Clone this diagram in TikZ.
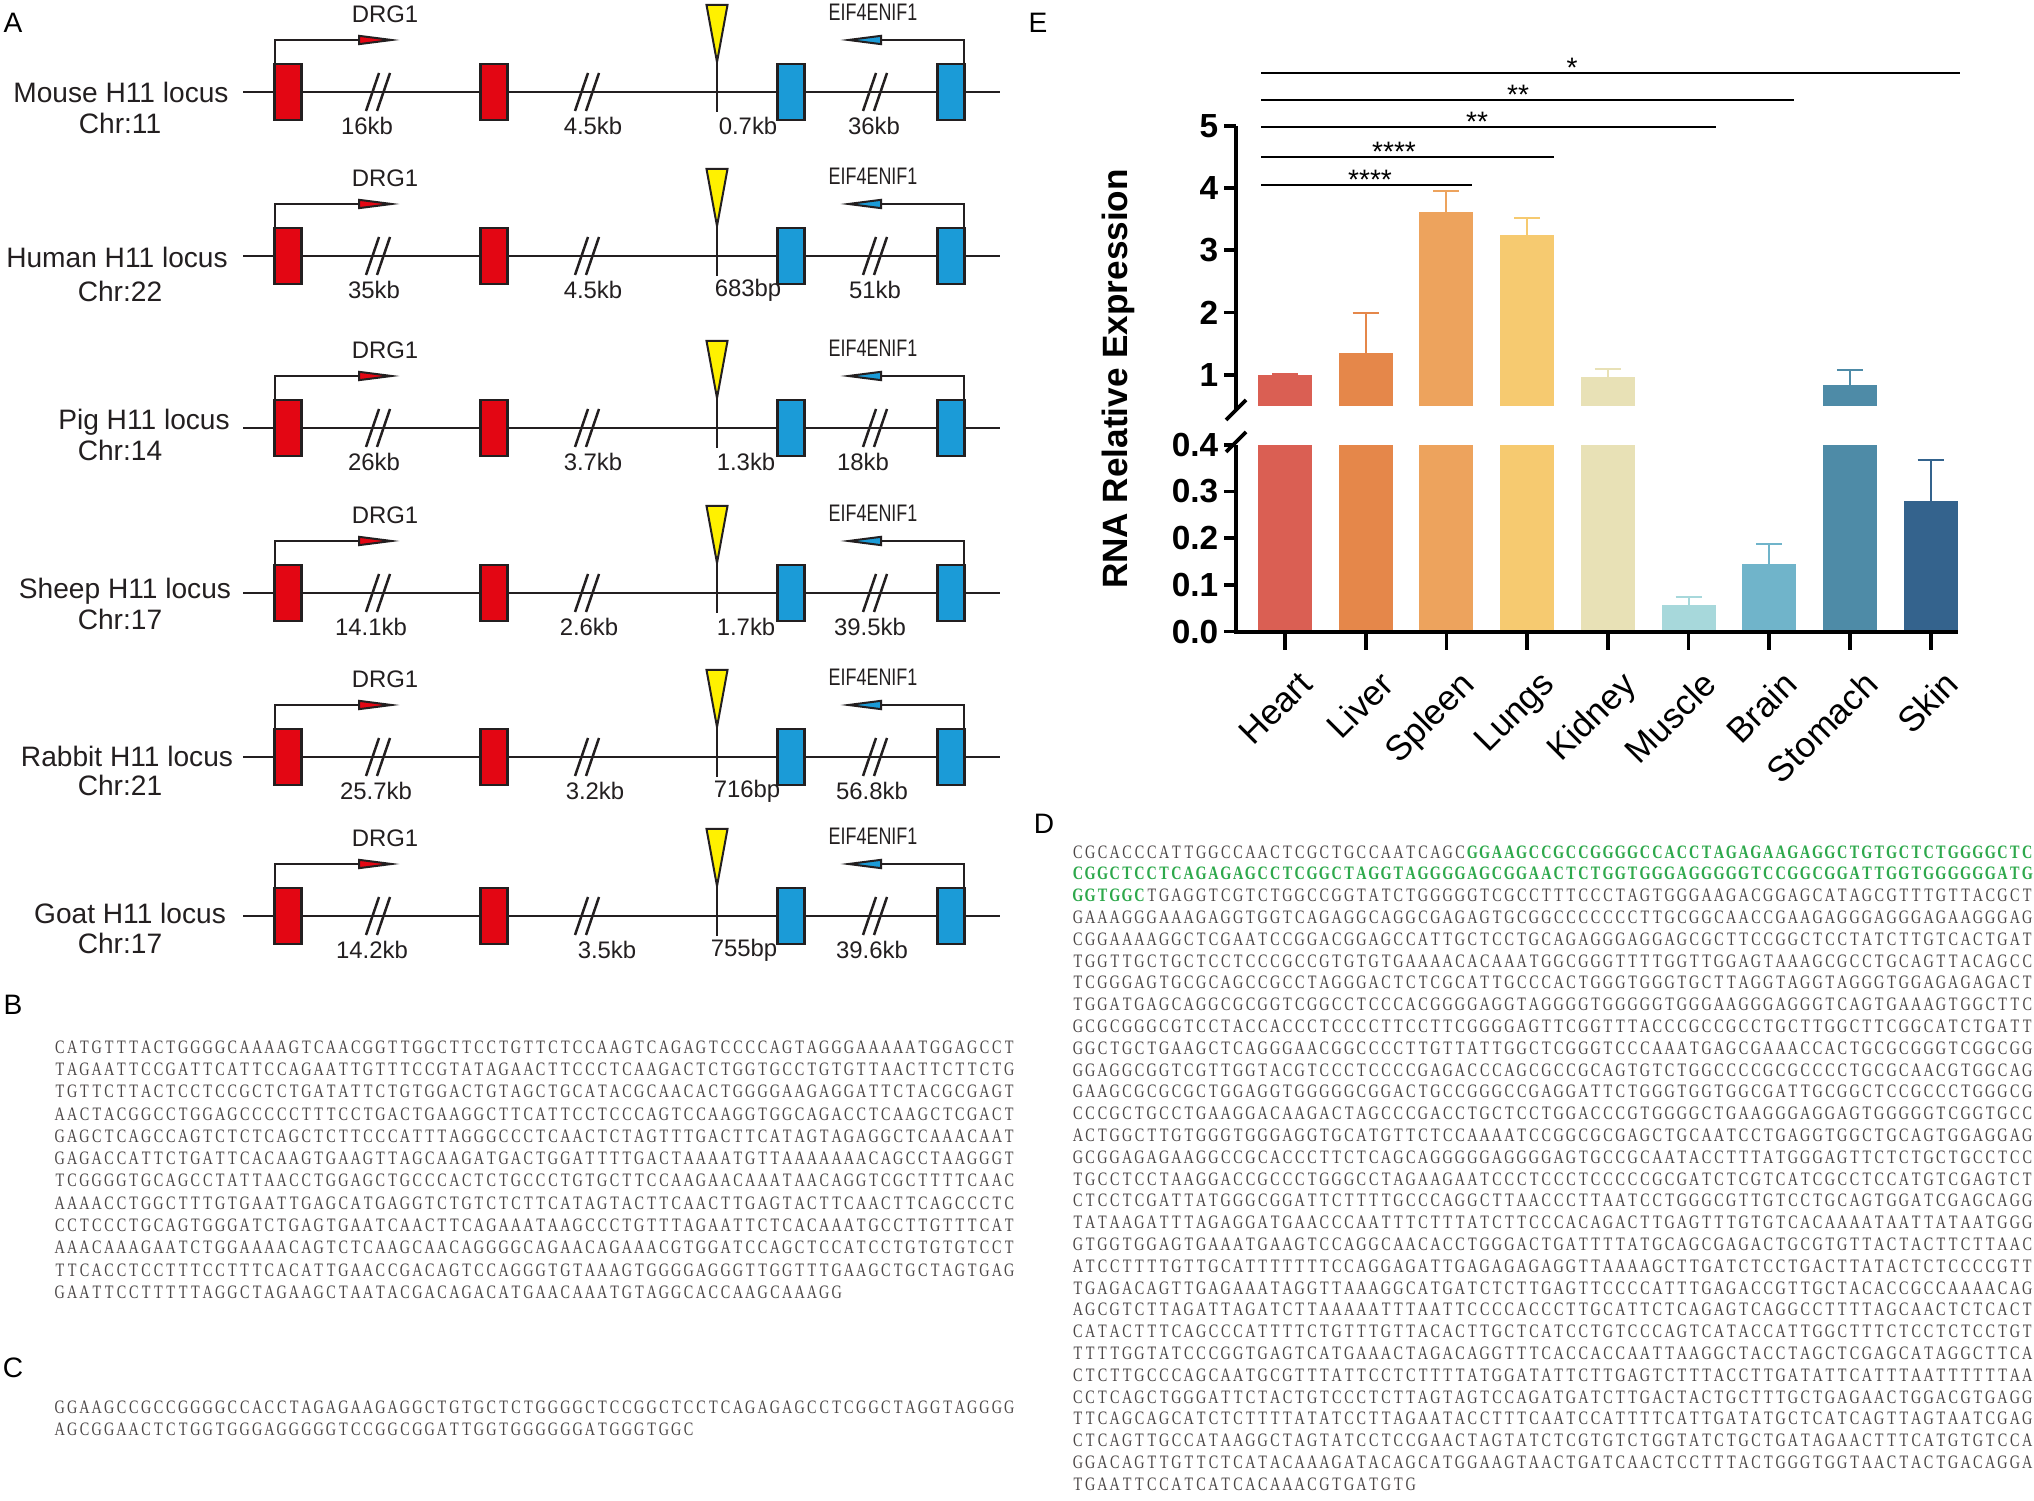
\documentclass[tikz,border=0pt]{standalone}
\usepackage{fontspec}
\setmainfont{Liberation Sans}
\newfontfamily\seqfont{Liberation Serif}
\usepackage{graphicx}
\usepackage{tikz}
\usetikzlibrary{arrows.meta}

\definecolor{inkdark}{HTML}{231F20}
\definecolor{exonred}{HTML}{E30613}
\definecolor{exonblue}{HTML}{1B9BD7}
\definecolor{siteyellow}{HTML}{FFF100}
\definecolor{seqgrey}{HTML}{4B4646}
\definecolor{seqgreen}{HTML}{2DA84B}
\definecolor{barheart}{HTML}{DA5F53}
\definecolor{barliver}{HTML}{E5874A}
\definecolor{barspleen}{HTML}{EDA35D}
\definecolor{barlungs}{HTML}{F6CA70}
\definecolor{barkidney}{HTML}{E8E1B6}
\definecolor{barmuscle}{HTML}{A7D8DB}
\definecolor{barbrain}{HTML}{70B4CA}
\definecolor{barstomach}{HTML}{4E8BA7}
\definecolor{barskin}{HTML}{34638D}

\tikzstyle{panel} = [font=\fontsize{8}{9}\selectfont, text=black, inner sep=0]
\tikzstyle{exon} = [rectangle, draw=inkdark, line width=0.25mm, minimum width=2.7mm, minimum height=5.6mm, inner sep=0]
\tikzstyle{species} = [font=\fontsize{8}{9}\selectfont, text=inkdark, inner sep=0]
\tikzstyle{dist} = [font=\fontsize{6.8}{8}\selectfont, text=inkdark, inner sep=0]
\tikzstyle{gene} = [font=\fontsize{6.8}{8}\selectfont, text=inkdark, inner sep=0]
\tikzstyle{backbone} = [draw=inkdark, line width=0.25mm]
\tikzstyle{genearrow} = [draw=inkdark, line width=0.2mm]
\tikzstyle{axis} = [draw=black, line width=0.38mm]
\tikzstyle{ticklabel} = [font=\fontsize{9.5}{11}\selectfont\bfseries, anchor=east, inner sep=0]
\tikzstyle{tissue} = [font=\fontsize{10}{11}\selectfont, rotate=45, anchor=north east, inner sep=0]
\tikzstyle{signif} = [draw=black, line width=0.15mm]
\tikzstyle{stars} = [font=\fontsize{8}{9}\selectfont, anchor=base, inner sep=0]
\tikzstyle{seqline} = [anchor=west, inner sep=0, text=seqgrey, font=\seqfont\fontsize{5.4}{6}\selectfont]

% one fixed-width cell per base
\newlength\dnaw
\setlength\dnaw{1.233mm}
\newcommand\dnaseq[1]{\expandafter\dnaloop#1\relax}
\def\dnaloop#1{\ifx#1\relax\else\makebox[\dnaw]{\scalebox{0.75}[1]{#1}}\expandafter\dnaloop\fi}

\begin{document}
\begin{tikzpicture}[x=0.1mm, y=-0.1mm]
    \useasboundingbox (0,0) rectangle (2034,1501);
    \fill[white] (0,0) rectangle (2034,1501);

    % panel letters
    \node[panel] (pA) at (13,23) {A};
    \node[panel] (pB) at (13,1005) {B};
    \node[panel] (pC) at (13,1368) {C};
    \node[panel] (pD) at (1044,824) {D};
    \node[panel] (pE) at (1038,23) {E};

    % A: loci
    \foreach \ry/\spx/\spy/\sp/\chy/\chr/\da/\dax/\db/\dbx/\dc/\dcx/\dd/\ddx [count=\i] in {
        92/121/92/Mouse/123/11/16kb/367/4.5kb/593/0.7kb/748/36kb/874,
        256/117/257/Human/291/22/35kb/374/4.5kb/593/683bp/748/51kb/875,
        428/144/422/Pig/450/14/26kb/374/3.7kb/593/1.3kb/746/18kb/863,
        593/125/591/Sheep/619/17/14.1kb/371/2.6kb/589/1.7kb/746/39.5kb/870,
        757/127/756/Rabbit/785/21/25.7kb/376/3.2kb/595/716bp/747/56.8kb/872,
        916/130/913/Goat/943/17/14.2kb/372/3.5kb/607/755bp/744/39.6kb/872} {
      \coordinate (bbstart\i) at (243,\ry);
      \coordinate (bbend\i) at (1000,\ry);
      \draw[backbone] (bbstart\i) -- (bbend\i);
      \foreach \sx in {378,587,875} {
        \draw[backbone] (\sx-12,\ry+19) -- (\sx+1,\ry-19);
        \draw[backbone] (\sx-1,\ry+19) -- (\sx+12,\ry-19);
      }
      \node[exon, fill=exonred] (redA\i) at (288,\ry) {};
      \node[exon, fill=exonred] (redB\i) at (494,\ry) {};
      \node[exon, fill=exonblue] (blueA\i) at (791,\ry) {};
      \node[exon, fill=exonblue] (blueB\i) at (951,\ry) {};
      % insertion site
      \coordinate (site\i) at (717,\ry-30);
      \draw[backbone] (site\i) -- ++(0,50);
      \draw[genearrow, fill=siteyellow] (site\i) -- ++(-10.5,-57) -- ++(21,0) -- cycle;
      % genes
      \coordinate (drgtip\i) at (400,\ry-52);
      \coordinate (eiftip\i) at (840,\ry-52);
      \draw[genearrow, -{Triangle[length=4.2mm, width=1mm, fill=exonred]}] ([xshift=0.15mm]redA\i.north west) |- (drgtip\i);
      \draw[genearrow, -{Triangle[length=4.2mm, width=1mm, fill=exonblue]}] ([xshift=-0.15mm]blueB\i.north east) |- (eiftip\i);
      \node[gene] (drg\i) at (385,\ry-78) {DRG1};
      \node[gene] (eif\i) at (873,\ry-80) {\scalebox{0.75}[1]{EIF4ENIF1}};
      % labels
      \node[species] (sp\i) at (\spx,\spy) {\sp{} H11 locus};
      \node[species] (chr\i) at (120,\chy) {Chr:\chr};
      \node[dist] (da\i) at (\dax,\ry+34) {\da};
      \node[dist] (db\i) at (\dbx,\ry+34) {\db};
      \node[dist] (dc\i) at (\dcx,\ry+34) {\dc};
      \node[dist] (dd\i) at (\ddx,\ry+34) {\dd};
    }

    % E: bar chart
    \foreach \v/\e/\c/\name [count=\k] in {1.0/1.02/barheart/Heart, 1.35/2.0/barliver/Liver,
        3.62/3.95/barspleen/Spleen, 3.24/3.52/barlungs/Lungs, 0.96/1.1/barkidney/Kidney,
        0.058/0.075/barmuscle/Muscle, 0.145/0.188/barbrain/Brain, 0.84/1.07/barstomach/Stomach,
        0.28/0.368/barskin/Skin} {
      \pgfmathsetmacro\cx{1285+80.7*(\k-1)}
      \pgfmathsetmacro\ytop{\v>0.4 ? 374.8-62.26*(\v-1) : 631.6-466.9*\v}
      \pgfmathsetmacro\yerr{\e>0.4 ? 374.8-62.26*(\e-1) : 631.6-466.9*\e}
      \pgfmathsetmacro\ylow{\v>0.4 ? 444.8 : \ytop}
      \fill[\c] (\cx-27,632) rectangle (\cx+27,\ylow);
      \ifdim\v pt>0.4pt
        \fill[\c] (\cx-27,406) rectangle (\cx+27,\ytop);
      \fi
      \draw[\c, line width=0.2mm] (\cx,\ytop) -- (\cx,\yerr) ++(-13,0) -- ++(26,0);
      \draw[axis] (\cx,632) -- (\cx,650);
      \node[tissue] (tis\k) at (\cx+12,668) {\name};
    }

    % axes with break
    \draw[axis] (1234,632) -- (1958,632);
    \draw[axis] (1236,126) -- (1236,410);
    \draw[axis] (1236,445) -- (1236,632);
    \draw[axis] (1226,420) -- (1246,400);
    \draw[axis] (1226,452) -- (1246,432);
    \foreach \v in {1,...,5} {
      \pgfmathsetmacro\yy{374.8-62.26*(\v-1)}
      \draw[axis] (1236,\yy) -- (1224,\yy);
      \node[ticklabel] (tu\v) at (1219,\yy) {\v};
    }
    \foreach \v/\t in {0/0.0,1/0.1,2/0.2,3/0.3,4/0.4} {
      \pgfmathsetmacro\yy{631.6-46.69*\v}
      \draw[axis] (1236,\yy) -- (1224,\yy);
      \node[ticklabel] (tl\v) at (1219,\yy) {\t};
    }
    \node[font=\fontsize{10}{12}\selectfont\bfseries, rotate=90] (ytitle) at (1118,379) {RNA Relative Expression};

    % significance
    \foreach \sy/\sxe/\lx/\st [count=\m] in {185/1472/1370/****, 157/1554/1394/****,
        127/1716/1477/**, 100/1794/1518/**, 73/1960/1572/*} {
      \coordinate (sigL\m) at (1261,\sy);
      \coordinate (sigR\m) at (\sxe,\sy);
      \draw[signif] (sigL\m) -- (sigR\m);
      \node[stars] (st\m) at (\lx,\sy+5) {\st};
    }

    % B
    \foreach \s [count=\n] in {
        CATGTTTACTGGGGCAAAAGTCAACGGTTGGCTTCCTGTTCTCCAAGTCAGAGTCCCCAGTAGGGAAAAATGGAGCCT,
        TAGAATTCCGATTCATTCCAGAATTGTTTCCGTATAGAACTTCCCTCAAGACTCTGGTGCCTGTGTTAACTTCTTCTG,
        TGTTCTTACTCCTCCGCTCTGATATTCTGTGGACTGTAGCTGCATACGCAACACTGGGGAAGAGGATTCTACGCGAGT,
        AACTACGGCCTGGAGCCCCCTTTCCTGACTGAAGGCTTCATTCCTCCCAGTCCAAGGTGGCAGACCTCAAGCTCGACT,
        GAGCTCAGCCAGTCTCTCAGCTCTTCCCATTTAGGGCCCTCAACTCTAGTTTGACTTCATAGTAGAGGCTCAAACAAT,
        GAGACCATTCTGATTCACAAGTGAAGTTAGCAAGATGACTGGATTTTGACTAAAATGTTAAAAAAACAGCCTAAGGGT,
        TCGGGGTGCAGCCTATTAACCTGGAGCTGCCCACTCTGCCCTGTGCTTCCAAGAACAAATAACAGGTCGCTTTTCAAC,
        AAAACCTGGCTTTGTGAATTGAGCATGAGGTCTGTCTCTTCATAGTACTTCAACTTGAGTACTTCAACTTCAGCCCTC,
        CCTCCCTGCAGTGGGATCTGAGTGAATCAACTTCAGAAATAAGCCCTGTTTAGAATTCTCACAAATGCCTTGTTTCAT,
        AAACAAAGAATCTGGAAAACAGTCTCAAGCAACAGGGGCAGAACAGAAACGTGGATCCAGCTCCATCCTGTGTGTCCT,
        TTCACCTCCTTTCCTTTCACATTGAACCGACAGTCCAGGGTGTAAAGTGGGGAGGGTTGGTTTGAAGCTGCTAGTGAG,
        GAATTCCTTTTTAGGCTAGAAGCTAATACGACAGACATGAACAAATGTAGGCACCAAGCAAAGG}
      \node[seqline] (seqB\n) at (53,{1047+22.3*(\n-1)}) {\dnaseq{\s}};

    % C
    \node[seqline] (seqC1) at (53,1407) {\dnaseq{GGAAGCCGCCGGGGCCACCTAGAGAAGAGGCTGTGCTCTGGGGCTCCGGCTCCTCAGAGAGCCTCGGCTAGGTAGGGG}};
    \node[seqline] (seqC2) at (53,1429) {\dnaseq{AGCGGAACTCTGGTGGGAGGGGGTCCGGCGGATTGGTGGGGGGATGGGTGGC}};

    % D
    \node[seqline] (seqD1) at (1071,852) {\dnaseq{CGCACCCATTGGCCAACTCGCTGCCAATCAGC}{\color{seqgreen}\bfseries\dnaseq{GGAAGCCGCCGGGGCCACCTAGAGAAGAGGCTGTGCTCTGGGGCTC}}};
    \node[seqline] (seqD2) at (1071,873.8) {{\color{seqgreen}\bfseries\dnaseq{CGGCTCCTCAGAGAGCCTCGGCTAGGTAGGGGAGCGGAACTCTGGTGGGAGGGGGTCCGGCGGATTGGTGGGGGGATG}}};
    \node[seqline] (seqD3) at (1071,895.6) {{\color{seqgreen}\bfseries\dnaseq{GGTGGC}}\dnaseq{TGAGGTCGTCTGGCCGGTATCTGGGGGTCGCCTTTCCCTAGTGGGAAGACGGAGCATAGCGTTTGTTACGCT}};
    \foreach \s [count=\n from 4] in {
        GAAAGGGAAAGAGGTGGTCAGAGGCAGGCGAGAGTGCGGCCCCCCCTTGCGGCAACCGAAGAGGGAGGGAGAAGGGAG,
        CGGAAAAGGCTCGAATCCGGACGGAGCCATTGCTCCTGCAGAGGGAGGAGCGCTTCCGGCTCCTATCTTGTCACTGAT,
        TGGTTGCTGCTCCTCCCGCCGTGTGTGAAAACACAAATGGCGGGTTTTGGTTGGAGTAAAGCGCCTGCAGTTACAGCC,
        TCGGGAGTGCGCAGCCGCCTAGGGACTCTCGCATTGCCCACTGGGTGGGTGCTTAGGTAGGTAGGGTGGAGAGAGACT,
        TGGATGAGCAGGCGCGGTCGGCCTCCCACGGGGAGGTAGGGGTGGGGGTGGGAAGGGAGGGTCAGTGAAAGTGGCTTC,
        GCGCGGGCGTCCTACCACCCTCCCCTTCCTTCGGGGAGTTCGGTTTACCCGCCGCCTGCTTGGCTTCGGCATCTGATT,
        GGCTGCTGAAGCTCAGGGAACGGCCCCTTGTTATTGGCTCGGGTCCCAAATGAGCGAAACCACTGCGCGGGTCGGCGG,
        GGAGGCGGTCGTTGGTACGTCCCTCCCCGAGACCCAGCGCCGCAGTGTCTGGCCCCGCGCCCCTGCGCAACGTGGCAG,
        GAAGCGCGCGCTGGAGGTGGGGGCGGACTGCCGGGCCGAGGATTCTGGGTGGTGGCGATTGCGGCTCCGCCCTGGGCG,
        CCCGCTGCCTGAAGGACAAGACTAGCCCGACCTGCTCCTGGACCCGTGGGGCTGAAGGGAGGAGTGGGGGTCGGTGCC,
        ACTGGCTTGTGGGTGGGAGGTGCATGTTCTCCAAAATCCGGCGCGAGCTGCAATCCTGAGGTGGCTGCAGTGGAGGAG,
        GCGGAGAGAAGGCCGCACCCTTCTCAGCAGGGGGAGGGGAGTGCCGCAATACCTTTATGGGAGTTCTCTGCTGCCTCC,
        TGCCTCCTAAGGACCGCCCTGGGCCTAGAAGAATCCCTCCCTCCCCCGCGATCTCGTCATCGCCTCCATGTCGAGTCT,
        CTCCTCGATTATGGGCGGATTCTTTTGCCCAGGCTTAACCCTTAATCCTGGGCGTTGTCCTGCAGTGGATCGAGCAGG,
        TATAAGATTTAGAGGATGAACCCAATTTCTTTATCTTCCCACAGACTTGAGTTTGTGTCACAAAATAATTATAATGGG,
        GTGGTGGAGTGAAATGAAGTCCAGGCAACACCTGGGACTGATTTTATGCAGCGAGACTGCGTGTTACTACTTCTTAAC,
        ATCCTTTTGTTGCATTTTTTTCCAGGAGATTGAGAGAGAGGTTAAAAGCTTGATCTCCTGACTTATACTCTCCCCGTT,
        TGAGACAGTTGAGAAATAGGTTAAAGGCATGATCTCTTGAGTTCCCCATTTGAGACCGTTGCTACACCGCCAAAACAG,
        AGCGTCTTAGATTAGATCTTAAAAATTTAATTCCCCACCCTTGCATTCTCAGAGTCAGGCCTTTTAGCAACTCTCACT,
        CATACTTTCAGCCCATTTTCTGTTTGTTACACTTGCTCATCCTGTCCCAGTCATACCATTGGCTTTCTCCTCTCCTGT,
        TTTTGGTATCCCGGTGAGTCATGAAACTAGACAGGTTTCACCACCAATTAAGGCTACCTAGCTCGAGCATAGGCTTCA,
        CTCTTGCCCAGCAATGCGTTTATTCCTCTTTTATGGATATTCTTGAGTCTTTACCTTGATATTCATTTAATTTTTTAA,
        CCTCAGCTGGGATTCTACTGTCCCTCTTAGTAGTCCAGATGATCTTGACTACTGCTTTGCTGAGAACTGGACGTGAGG,
        TTCAGCAGCATCTCTTTTATATCCTTAGAATACCTTTCAATCCATTTTCATTGATATGCTCATCAGTTAGTAATCGAG,
        CTCAGTTGCCATAAGGCTAGTATCCTCCGAACTAGTATCTCGTGTCTGGTATCTGCTGATAGAACTTTCATGTGTCCA,
        GGACAGTTGTTCTCATACAAAGATACAGCATGGAAGTAACTGATCAACTCCTTTACTGGGTGGTAACTACTGACAGGA,
        TGAATTCCATCATCACAAACGTGATGTG}
      \node[seqline] (seqD\n) at (1071,{852+21.8*(\n-1)}) {\dnaseq{\s}};

\end{tikzpicture}
\end{document}
